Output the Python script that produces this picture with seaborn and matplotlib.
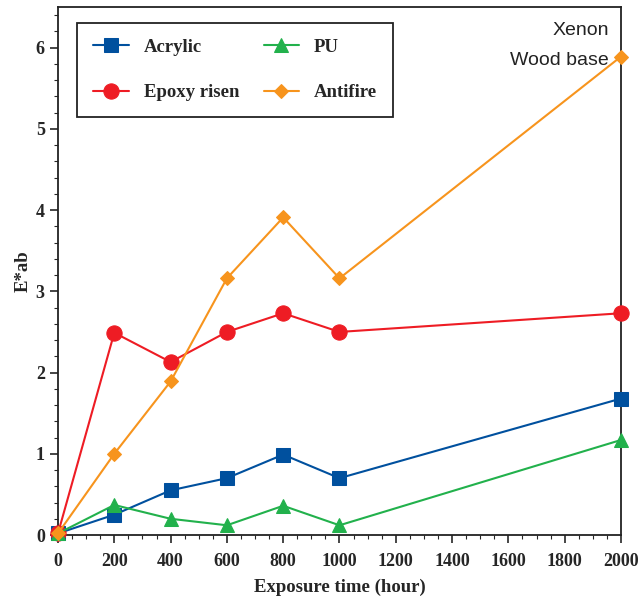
import numpy as np
import pandas as pd
import matplotlib
matplotlib.use("Agg")
import matplotlib.pyplot as plt
import seaborn as sns
from matplotlib.ticker import MultipleLocator

# exposure time (hour)
hours = [0, 200, 400, 600, 800, 1000, 2000]

# E*ab values
acrylic = [0.02, 0.25, 0.55, 0.70, 0.99, 0.70, 1.68]
epoxy = [0.02, 2.49, 2.13, 2.50, 2.73, 2.50, 2.73]
pu = [0.02, 0.37, 0.20, 0.12, 0.36, 0.12, 1.17]
antifire = [0.02, 1.00, 1.89, 3.16, 3.91, 3.16, 5.89]

series_names = ["Acrylic", "Epoxy risen", "PU", "Antifire"]
series_vals = [acrylic, epoxy, pu, antifire]
colors = ["#00509e", "#ee1c24", "#22b14c", "#f7941d"]
markers = ["s", "o", "^", "D"]
msizes = [10, 11, 10, 7]

df = pd.DataFrame({
    "hour": hours * 4,
    "Eab": acrylic + epoxy + pu + antifire,
    "coating": [n for n in series_names for _ in hours],
})

sns.set_style("ticks")
plt.rcParams["font.family"] = ["Liberation Serif", "DejaVu Serif"]

fig = plt.figure(figsize=(6.4, 5.99), dpi=100)
ax = fig.add_axes([0.0906, 0.1068, 0.8797, 0.8815])

for name, c, m, ms in zip(series_names, colors, markers, msizes):
    sub = df[df["coating"] == name]
    sns.lineplot(data=sub, x="hour", y="Eab", color=c, marker=m, markersize=ms,
                 markeredgecolor=c, linewidth=1.5, label=name, ax=ax,
                 clip_on=False, zorder=3)

ax.set_xlim(0, 2000)
ax.set_ylim(0, 6.5)
ax.xaxis.set_major_locator(MultipleLocator(200))
ax.xaxis.set_minor_locator(MultipleLocator(50))
ax.yaxis.set_major_locator(MultipleLocator(1))
ax.yaxis.set_minor_locator(MultipleLocator(0.2))
ax.tick_params(which="major", direction="out", length=6, width=1.2, labelsize=13)
ax.tick_params(which="minor", direction="out", length=3, width=0.8)
ax.tick_params(axis="x", which="major", pad=7)
for lab in ax.get_xticklabels() + ax.get_yticklabels():
    lab.set_fontweight("bold")
for sp in ax.spines.values():
    sp.set_visible(True)
    sp.set_linewidth(1.3)
    sp.set_color("#222222")

ax.set_xlabel("Exposure time (hour)", fontsize=13.5, fontweight="bold", labelpad=6)
ax.set_ylabel("E*ab", fontsize=13.5, fontweight="bold", labelpad=3)

handles, labels = ax.get_legend_handles_labels()
leg = ax.legend(handles, labels, ncol=2, loc="upper left",
                bbox_to_anchor=(0.034, 0.970), borderaxespad=0, frameon=True,
                fancybox=False, edgecolor="#222222", framealpha=1, borderpad=0.85,
                labelspacing=1.5, handlelength=1.9, columnspacing=1.3,
                handletextpad=0.8, prop={"family": "Liberation Serif",
                                         "weight": "bold", "size": 13.5})
leg.get_frame().set_linewidth(1.3)

ax.text(0.978, 0.956, "Xenon", transform=ax.transAxes, ha="right", va="center",
        fontsize=14, family="Liberation Sans", color="#222222")
ax.text(0.978, 0.898, "Wood base", transform=ax.transAxes, ha="right", va="center",
        fontsize=14, family="Liberation Sans", color="#222222")

fig.savefig("out.png", dpi=100)
